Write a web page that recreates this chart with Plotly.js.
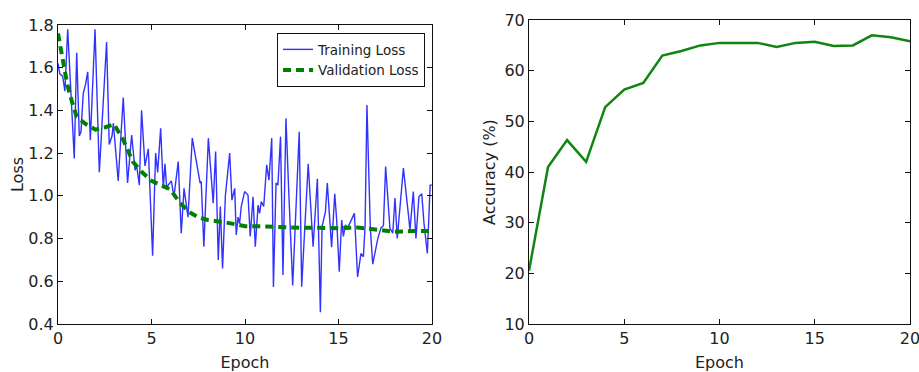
<!DOCTYPE html>
<html>
<head>
<meta charset="utf-8">
<script src="https://cdn.plot.ly/plotly-3.0.1.min.js"></script>
<style>html,body{margin:0;padding:0;background:#fff;}#chart{width:919px;height:372px;}</style>
</head>
<body>
<div id="chart"></div>
<script>
// Training loss (noisy, sub-epoch samples)
const trainEpoch = [0.00,0.10,0.25,0.37,0.52,0.64,0.87,1.00,1.14,1.23,1.35,1.47,1.59,1.73,1.98,2.21,2.60,2.74,2.89,2.96,
  3.22,3.49,3.72,3.94,4.12,4.20,4.35,4.47,4.65,4.83,5.06,5.22,5.33,5.49,5.63,5.72,5.81,6.06,6.20,6.43,
  6.59,6.74,6.95,7.18,7.45,7.60,7.66,7.80,8.04,8.30,8.43,8.57,8.68,8.80,8.95,9.18,9.30,9.45,9.53,9.63,
  9.71,9.80,9.98,10.16,10.28,10.43,10.55,10.70,10.78,10.87,11.00,11.16,11.28,11.43,11.52,11.66,11.76,11.90,12.03,12.19,
  12.33,12.55,12.90,13.03,13.38,13.64,13.87,14.03,14.12,14.30,14.40,14.63,14.80,14.90,15.04,15.17,15.26,15.37,15.49,15.67,
  15.85,16.02,16.20,16.33,16.42,16.52,16.70,16.83,16.97,17.10,17.27,17.40,17.52,17.75,17.90,18.02,18.14,18.47,18.73,18.82,
  19.00,19.14,19.30,19.45,19.57,19.75,19.90,20.00];
const trainLoss = [1.62,1.57,1.56,1.49,1.78,1.59,1.175,1.67,1.28,1.30,1.48,1.52,1.58,1.26,1.78,1.11,1.72,1.24,1.28,1.34,
  1.07,1.46,1.06,1.285,1.12,1.145,1.05,1.40,1.14,1.22,0.72,1.20,1.11,1.316,1.035,1.15,1.04,1.07,0.996,1.16,
  0.825,1.035,0.90,1.27,1.13,1.06,1.067,0.762,1.27,0.965,1.207,0.70,0.95,0.66,1.00,1.20,0.98,1.035,0.817,0.90,
  0.87,0.95,1.02,1.004,0.81,0.996,0.762,0.957,0.918,0.973,0.95,1.145,1.074,1.27,0.573,1.06,1.05,1.277,0.63,1.363,
  1.04,0.58,1.30,0.575,1.15,0.762,1.08,0.455,0.856,0.926,1.06,0.76,1.01,0.89,0.645,0.887,0.81,0.864,0.85,0.887,
  0.918,0.62,0.73,0.715,0.856,1.425,0.85,0.68,0.75,0.80,0.85,0.86,1.137,0.848,0.825,0.99,0.80,1.13,0.918,0.84,
  1.02,0.80,0.996,1.01,0.872,0.73,1.05,1.05];

// Validation loss
const valEpoch = [0,0.25,0.5,0.75,1.0,1.5,2.0,2.5,3.0,3.5,4.0,4.5,5.0,5.5,6.0,6.5,7.0,7.5,8.0,9.0,10,11,12,13,14,15,16,17,18,19,20];
const valLoss  = [1.76,1.63,1.52,1.44,1.37,1.335,1.31,1.32,1.335,1.26,1.16,1.11,1.07,1.05,1.03,0.97,0.925,0.90,0.887,0.875,0.858,0.857,0.852,0.85,0.85,0.848,0.852,0.842,0.832,0.835,0.835];

// Accuracy per epoch
const accEpoch = [0,1,2,3,4,5,6,7,8,9,10,11,12,13,14,15,16,17,18,19,20];
const accuracy = [20.5,41.0,46.3,42.0,52.8,56.3,57.6,63.0,63.9,65.0,65.5,65.5,65.5,64.7,65.5,65.7,64.9,65.0,67.0,66.6,65.8];

const FONT = 'DejaVu Sans, Liberation Sans, sans-serif';
const tickCol = '#222';

const traces = [
  {x: trainEpoch, y: trainLoss, type: 'scatter', mode: 'lines', name: 'Training Loss',
   line: {color: 'rgb(50,50,255)', width: 1.4}, xaxis: 'x', yaxis: 'y'},
  {x: valEpoch, y: valLoss, type: 'scatter', mode: 'lines', name: 'Validation Loss',
   line: {color: '#008000', width: 4, dash: '8px,5px'}, xaxis: 'x', yaxis: 'y'},
  {x: accEpoch, y: accuracy, type: 'scatter', mode: 'lines', name: 'Accuracy', showlegend: false,
   line: {color: '#108510', width: 2.5}, xaxis: 'x2', yaxis: 'y2'}
];

function axisBase() {
  return {
    showgrid: false, zeroline: false, showline: true, linecolor: '#111', linewidth: 1,
    mirror: 'ticks', ticks: 'inside', ticklen: 5, tickcolor: '#111', tickwidth: 1,
    tickfont: {family: FONT, size: 16, color: tickCol}, automargin: false, fixedrange: true,
    ticklabeloverflow: 'allow'
  };
}

const layout = {
  width: 919, height: 372,
  margin: {l: 0, r: 0, t: 0, b: 0},
  paper_bgcolor: '#fff', plot_bgcolor: '#fff',
  font: {family: FONT, color: tickCol},
  showlegend: true,
  legend: {x: 0.4625, xanchor: 'right', y: 0.911, yanchor: 'top',
    bgcolor: '#fff', bordercolor: '#111', borderwidth: 1,
    font: {family: FONT, size: 13.5, color: '#222'}, itemwidth: 30},
  xaxis: Object.assign(axisBase(), {domain: [0.0631, 0.4701], range: [0, 20], dtick: 5, tick0: 0,
    anchor: 'y', title: {text: 'Epoch', font: {family: FONT, size: 16, color: tickCol}, standoff: 10}}),
  yaxis: Object.assign(axisBase(), {domain: [0.129, 0.933], range: [0.4, 1.8], dtick: 0.2, tick0: 0.4,
    tickformat: '.1f', anchor: 'x', title: {text: 'Loss', font: {family: FONT, size: 16, color: tickCol}, standoff: 0}}),
  xaxis2: Object.assign(axisBase(), {domain: [0.5756, 0.9902], range: [0, 20], dtick: 5, tick0: 0,
    anchor: 'y2', title: {text: 'Epoch', font: {family: FONT, size: 16, color: tickCol}, standoff: 10}}),
  yaxis2: Object.assign(axisBase(), {domain: [0.129, 0.946], range: [10, 70], dtick: 10, tick0: 10,
    anchor: 'x2', title: {text: 'Accuracy (%)', font: {family: FONT, size: 16, color: tickCol}, standoff: 4}})
};

Plotly.newPlot('chart', traces, layout, {displayModeBar: false, staticPlot: true});
</script>
</body>
</html>
